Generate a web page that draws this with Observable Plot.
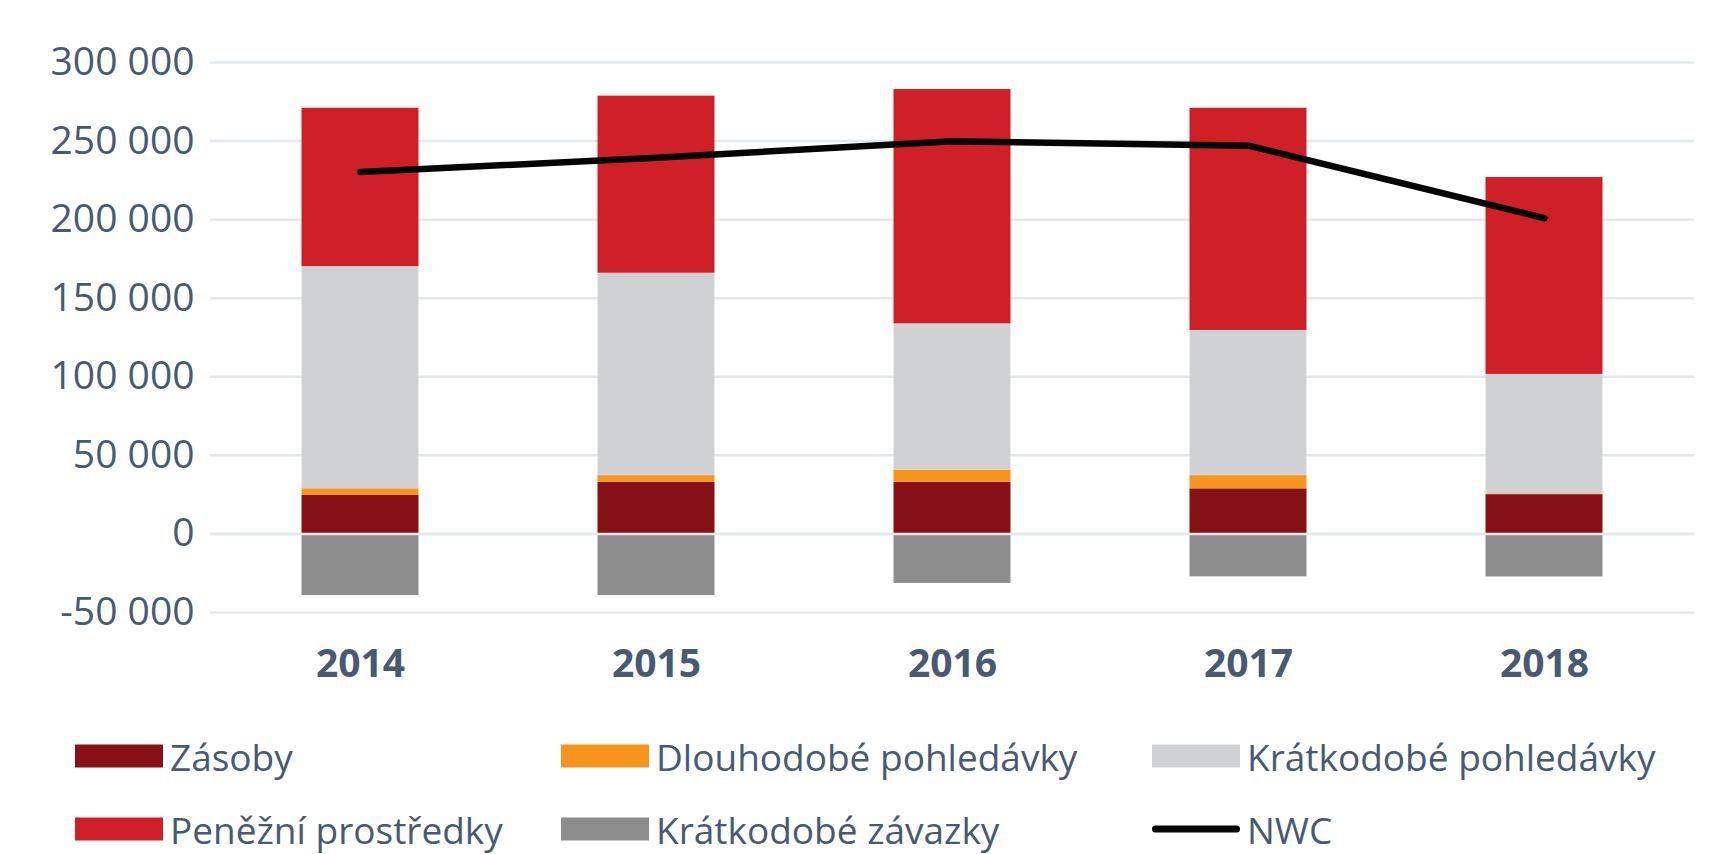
<!DOCTYPE html>
<html>
<head>
<meta charset="utf-8">
<script src="https://cdn.jsdelivr.net/npm/d3@7"></script>
<script src="https://cdn.jsdelivr.net/npm/@observablehq/plot@0.6"></script>
<style>
  html, body { margin: 0; padding: 0; background: #fff; }
  #wrap { position: relative; width: 1725px; height: 854px; font-family: "Open Sans", sans-serif; overflow: hidden; }
  #chart svg { display: block; }
  .lg { position: absolute; display: flex; align-items: center; font-size: 37px; line-height: 1; color: #475a72; white-space: nowrap; transform: translateY(-50%); }
  .sw { width: 88px; height: 23px; margin-right: 7px; }
  .ln { width: 88px; height: 7px; border-radius: 4px; background: #050505; margin-right: 7px; }
</style>
</head>
<body>
<div id="wrap">
  <div id="chart"></div>
  <div id="legend"></div>
</div>
<script>
const years = ["2014", "2015", "2016", "2017", "2018"];
const zasoby = [24500, 32900, 32900, 28700, 25000];
const dlouhodobePohledavky = [4200, 4200, 7700, 8400, 500];
const kratkodobePohledavky = [141400, 128800, 93100, 92400, 76000];
const penezniProstredky = [100800, 112700, 149100, 141400, 125300];
const kratkodobeZavazky = [-39200, -39200, -31500, -27300, -27400];
const nwc = [230300, 239400, 249900, 247100, 200900];
const yTicks = [-50000, 0, 50000, 100000, 150000, 200000, 250000, 300000];

const seriesNames = ["Zásoby", "Dlouhodobé pohledávky", "Krátkodobé pohledávky", "Peněžní prostředky", "Krátkodobé závazky"];
const seriesColors = ["#861217", "#f7941e", "#d0d1d3", "#cf2028", "#8d8d8d"];
const seriesValues = [zasoby, dlouhodobePohledavky, kratkodobePohledavky, penezniProstredky, kratkodobeZavazky];

const barData = [];
seriesNames.forEach((name, si) => {
  years.forEach((yr, i) => barData.push({year: yr, series: name, value: seriesValues[si][i]}));
});
const lineData = years.map((yr, i) => ({year: yr, value: nwc[i]}));

const fmt = d => String(d).replace(/\B(?=(\d{3})+(?!\d))/g, " ");
const textColor = "#475a72";
const gridColor = "#e3e7ee";

const plot = Plot.plot({
  width: 1725,
  height: 700,
  marginLeft: 210,
  marginRight: 31,
  marginTop: 62,
  marginBottom: 88,
  style: {fontFamily: "Open Sans, sans-serif", background: "transparent"},
  x: {type: "band", domain: years, padding: 0, axis: null},
  y: {domain: [-50000, 300000], axis: null},
  color: {domain: seriesNames, range: seriesColors},
  marks: [
    Plot.ruleY(yTicks, {stroke: gridColor, strokeWidth: 2.5}),
    Plot.barY(barData, Plot.stackY({order: seriesNames}, {x: "year", y: "value", fill: "series", insetLeft: 89.5, insetRight: 89.5})),
    Plot.ruleY([0], {stroke: gridColor, strokeWidth: 2.5}),
    Plot.lineY(lineData, {x: "year", y: "value", stroke: "#050505", strokeWidth: 6.5, strokeLinecap: "round", strokeLinejoin: "round"}),
    Plot.axisY({ticks: yTicks, tickFormat: fmt, tickSize: 0, tickPadding: 16, fontSize: 39, color: textColor, label: null}),
    Plot.axisX({tickSize: 0, tickPadding: 37, fontSize: 39, fontWeight: "bold", color: textColor, label: null})
  ]
});
document.getElementById("chart").appendChild(plot);

// legend
const legendItems = [
  {name: "Zásoby", color: seriesColors[0], left: 75, top: 756, type: "sw"},
  {name: "Dlouhodobé pohledávky", color: seriesColors[1], left: 561, top: 756, type: "sw"},
  {name: "Krátkodobé pohledávky", color: seriesColors[2], left: 1152, top: 756, type: "sw"},
  {name: "Peněžní prostředky", color: seriesColors[3], left: 75, top: 829, type: "sw"},
  {name: "Krátkodobé závazky", color: seriesColors[4], left: 561, top: 829, type: "sw"},
  {name: "NWC", color: "#050505", left: 1152, top: 829, type: "ln"}
];
const lg = document.getElementById("legend");
legendItems.forEach(it => {
  const d = document.createElement("div");
  d.className = "lg";
  d.style.left = it.left + "px";
  d.style.top = it.top + "px";
  const s = document.createElement("span");
  s.className = it.type;
  if (it.type === "sw") s.style.background = it.color;
  const t = document.createElement("span");
  t.textContent = it.name;
  d.appendChild(s);
  d.appendChild(t);
  lg.appendChild(d);
});
</script>
</body>
</html>
